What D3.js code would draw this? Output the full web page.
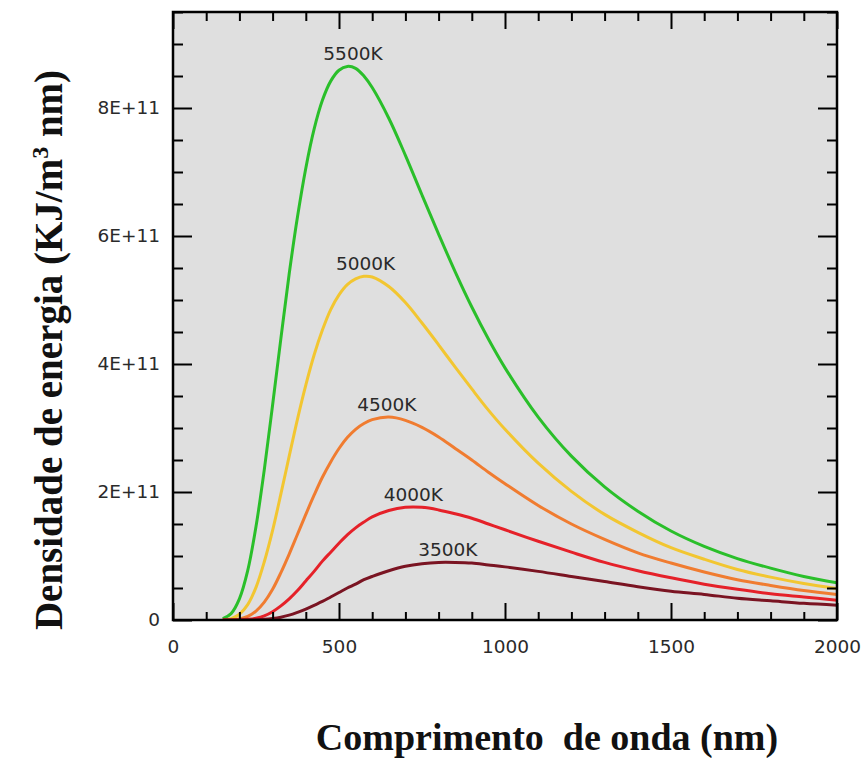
<!DOCTYPE html>
<html>
<head>
<meta charset="utf-8">
<script src="https://cdn.jsdelivr.net/npm/d3@7"></script>
<style>
  html, body { margin: 0; padding: 0; background: #ffffff; }
  svg { display: block; }
</style>
</head>
<body>
<svg id="chart" width="862" height="758"></svg>
<script>
// ---- data (energy density in units of 1E+11) ----
const wavelengths = [150, 175, 200, 225, 250, 275, 300, 325, 350, 375, 400, 425, 450, 475, 500, 525, 550, 575,
  600, 650, 700, 750, 800, 850, 900, 950, 1000,
  1100, 1200, 1300, 1400, 1500, 1600, 1700, 1800, 1900, 2000];
const series5500 = [0.02, 0.10, 0.33, 0.77, 1.46, 2.35, 3.36, 4.40, 5.41, 6.30, 7.06, 7.67, 8.12, 8.42, 8.59, 8.65, 8.62, 8.50,
  8.32, 7.84, 7.26, 6.64, 6.03, 5.44, 4.89, 4.39, 3.94,
  3.17, 2.56, 2.08, 1.70, 1.39, 1.15, 0.96, 0.81, 0.68, 0.58];
const series5000 = [0.003, 0.022, 0.09, 0.24, 0.51, 0.91, 1.40, 1.97, 2.56, 3.14, 3.67, 4.14, 4.53, 4.85, 5.08, 5.24, 5.33, 5.37,
  5.36, 5.21, 4.96, 4.64, 4.30, 3.95, 3.61, 3.28, 2.98,
  2.45, 2.01, 1.65, 1.37, 1.13, 0.95, 0.79, 0.67, 0.57, 0.49];
const series4500 = [0.0, 0.004, 0.018, 0.058, 0.14, 0.28, 0.48, 0.74, 1.03, 1.34, 1.65, 1.95, 2.23, 2.47, 2.68, 2.85, 2.98, 3.07,
  3.13, 3.17, 3.12, 3.01, 2.86, 2.68, 2.50, 2.31, 2.13,
  1.79, 1.50, 1.26, 1.05, 0.89, 0.75, 0.63, 0.54, 0.46, 0.40];
const series4000 = [0.0, 0.0, 0.002, 0.010, 0.029, 0.066, 0.13, 0.22, 0.33, 0.46, 0.61, 0.76, 0.92, 1.06, 1.20, 1.33, 1.44, 1.53,
  1.61, 1.71, 1.76, 1.76, 1.72, 1.66, 1.59, 1.50, 1.41,
  1.23, 1.06, 0.90, 0.77, 0.66, 0.56, 0.48, 0.41, 0.36, 0.31];
const series3500 = [0.0, 0.0, 0.0, 0.001, 0.004, 0.010, 0.023, 0.044, 0.076, 0.12, 0.17, 0.23, 0.29, 0.36, 0.43, 0.50, 0.56, 0.63,
  0.68, 0.77, 0.84, 0.88, 0.90, 0.90, 0.89, 0.86, 0.83,
  0.76, 0.68, 0.60, 0.52, 0.45, 0.40, 0.34, 0.30, 0.26, 0.23];
const seriesNames = ["5500K", "5000K", "4500K", "4000K", "3500K"];
const peakWavelengths = [527, 580, 644, 724, 828];
const xTickValues = [0, 500, 1000, 1500, 2000];
const xTickLabels = ["0", "500", "1000", "1500", "2000"];
const yTickValues = [0, 2, 4, 6, 8];
const yTickLabels = ["0", "2E+11", "4E+11", "6E+11", "8E+11"];
const xTitle = "Comprimento\u00a0 de onda (nm)";

// ---- layout / style ----
const colors = ["#2abf2a", "#f2c631", "#f07c30", "#e52129", "#7a1422"];
const allSeries = [series5500, series5000, series4500, series4000, series3500];
const padL = 173, padR = 837, padT = 12, padB = 620;

const svg = d3.select("#chart");
const x = d3.scaleLinear().domain([0, 2000]).range([padL, padR]);
const y = d3.scaleLinear().domain([0, 9.5]).range([padB, padT]);

svg.append("rect").attr("x", 0).attr("y", 0).attr("width", 862).attr("height", 758).attr("fill", "#ffffff");
svg.append("rect").attr("x", padL).attr("y", padT).attr("width", padR - padL).attr("height", padB - padT).attr("fill", "#dfdfdf");

svg.append("clipPath").attr("id", "clip").append("rect")
  .attr("x", padL).attr("y", padT).attr("width", padR - padL).attr("height", padB - padT);

const line = d3.line()
  .x((d, i) => x(wavelengths[i]))
  .y(d => y(d))
  .curve(d3.curveCatmullRom.alpha(0.5));

const curves = svg.append("g").attr("clip-path", "url(#clip)");
allSeries.forEach((s, k) => {
  curves.append("path")
    .attr("d", line(s))
    .attr("fill", "none")
    .attr("stroke", colors[k])
    .attr("stroke-width", 3)
    .attr("stroke-linejoin", "round");
});

// labels above peaks
allSeries.forEach((s, k) => {
  svg.append("text")
    .attr("x", x(peakWavelengths[k]) + (k === 0 ? 5 : 0))
    .attr("y", y(d3.max(s)) - 6)
    .attr("text-anchor", "middle")
    .attr("font-family", "DejaVu Sans, sans-serif")
    .attr("font-size", 18.5)
    .attr("fill", "#2a2a2a")
    .text(seriesNames[k]);
});

// ---- axes ----
const minorX = d3.range(0, 2001, 100).filter(v => v % 500 !== 0);
const minorY = d3.range(0, 9.51, 0.5).filter(v => Math.abs(v / 2 - Math.round(v / 2)) > 1e-6);

function styleAxis(g) {
  g.select(".domain").remove();
  g.selectAll(".tick line").attr("stroke", "#000").attr("stroke-width", 2);
  g.selectAll(".tick text")
    .attr("font-family", "DejaVu Sans, sans-serif")
    .attr("font-size", 18.5)
    .attr("fill", "#2a2a2a");
}

// bottom
svg.append("g").attr("transform", `translate(0,${padB})`)
  .call(d3.axisBottom(x).tickValues(xTickValues).tickSize(-17).tickPadding(20)
    .tickFormat((d, i) => xTickLabels[i]))
  .call(styleAxis);
svg.append("g").attr("transform", `translate(0,${padB})`)
  .call(d3.axisBottom(x).tickValues(minorX).tickSize(-8).tickFormat(""))
  .call(styleAxis);
// top
svg.append("g").attr("transform", `translate(0,${padT})`)
  .call(d3.axisTop(x).tickValues(xTickValues).tickSize(-17).tickFormat(""))
  .call(styleAxis);
svg.append("g").attr("transform", `translate(0,${padT})`)
  .call(d3.axisTop(x).tickValues(minorX).tickSize(-9).tickFormat(""))
  .call(styleAxis);
// left
svg.append("g").attr("transform", `translate(${padL},0)`)
  .call(d3.axisLeft(y).tickValues(yTickValues).tickSize(-19).tickPadding(13)
    .tickFormat((d, i) => yTickLabels[i]))
  .call(styleAxis);
svg.append("g").attr("transform", `translate(${padL},0)`)
  .call(d3.axisLeft(y).tickValues(minorY).tickSize(-10).tickFormat(""))
  .call(styleAxis);
// right
svg.append("g").attr("transform", `translate(${padR},0)`)
  .call(d3.axisRight(y).tickValues(yTickValues).tickSize(-19).tickFormat(""))
  .call(styleAxis);
svg.append("g").attr("transform", `translate(${padR},0)`)
  .call(d3.axisRight(y).tickValues(minorY).tickSize(-10).tickFormat(""))
  .call(styleAxis);

// frame
svg.append("rect").attr("x", padL).attr("y", padT).attr("width", padR - padL).attr("height", padB - padT)
  .attr("fill", "none").attr("stroke", "#000").attr("stroke-width", 2.5);

// ---- titles ----
svg.append("text")
  .attr("x", 547).attr("y", 750)
  .attr("text-anchor", "middle")
  .attr("font-family", "Liberation Serif, Times New Roman, serif")
  .attr("font-weight", "bold")
  .attr("font-size", 38)
  .attr("fill", "#111")
  .text(xTitle);

const yt = svg.append("text")
  .attr("transform", "translate(62,350) rotate(-90)")
  .attr("text-anchor", "middle")
  .attr("font-family", "Liberation Serif, Times New Roman, serif")
  .attr("font-weight", "bold")
  .attr("font-size", 39)
  .attr("fill", "#111");
yt.append("tspan").text("Densidade de energia (KJ/m");
yt.append("tspan").attr("font-size", 24).attr("dy", -14).text("3");
yt.append("tspan").attr("dy", 14).text(" nm)");
</script>
</body>
</html>
